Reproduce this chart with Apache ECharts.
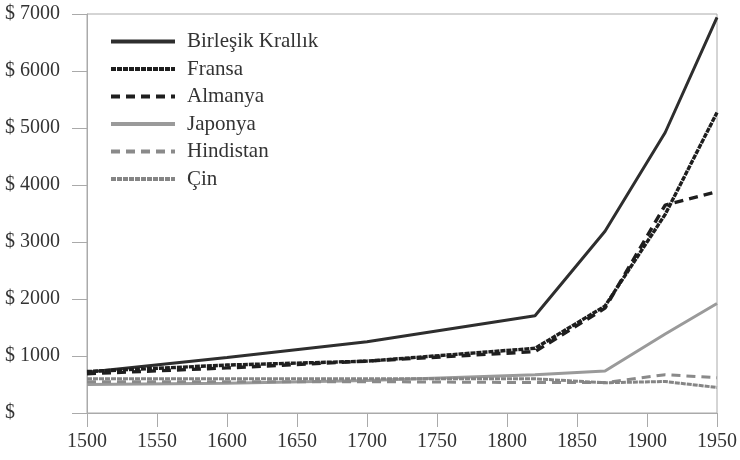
<!DOCTYPE html>
<html>
<head>
<meta charset="utf-8">
<script src="https://cdn.jsdelivr.net/npm/echarts@6/dist/echarts.min.js"></script>
<style>html,body{margin:0;padding:0;background:#fff}#c{width:740px;height:460px}</style>
</head>
<body>
<div id="c"></div>
<script>
const years = [1500, 1600, 1700, 1820, 1870, 1913, 1950];
const seriesNames = ['Birleşik Krallık', 'Fransa', 'Almanya', 'Japonya', 'Hindistan', 'Çin'];
const uk      = [714, 974, 1250, 1706, 3190, 4921, 6939];
const france  = [727, 841, 910, 1135, 1876, 3485, 5271];
const germany = [688, 791, 910, 1077, 1839, 3648, 3881];
const japan   = [500, 520, 570, 669, 737, 1387, 1921];
const india   = [550, 550, 550, 533, 533, 673, 619];
const china   = [600, 600, 600, 600, 530, 552, 448];
const yTicks = [0, 1000, 2000, 3000, 4000, 5000, 6000, 7000];

const values = [uk, france, germany, japan, india, china];
const styles = [
  {color: '#2e2e2e', type: 'solid', width: 3},
  {color: '#1e1e1e', type: [5, 1], width: 3.4},
  {color: '#1e1e1e', type: [9, 6], width: 3.4},
  {color: '#9a9a9a', type: 'solid', width: 3},
  {color: '#8a8a8a', type: [9, 6], width: 3},
  {color: '#858585', type: [5, 1], width: 3}
];
const font = 'Liberation Serif';
const chart = echarts.init(document.getElementById('c'));
chart.setOption({
  animation: false,
  grid: {left: 87, right: 18, top: 14, bottom: 47, show: true, borderColor: '#aaa', borderWidth: 1},
  legend: {
    orient: 'vertical', left: 109, top: 31, padding: 0,
    itemWidth: 64, itemHeight: 20, itemGap: 6.5,
    itemStyle: {opacity: 0},
    lineStyle: {width: 4},
    textStyle: {fontFamily: font, fontSize: 21, color: '#333', lineHeight: 20, padding: [0, 0, 0, 7]},
    data: seriesNames
  },
  xAxis: {
    type: 'value', min: 1500, max: 1950, interval: 50,
    axisLine: {show: true, lineStyle: {color: '#aaa'}},
    axisTick: {show: true, length: 14, lineStyle: {color: '#aaa'}},
    axisLabel: {fontFamily: font, fontSize: 20, color: '#333', margin: 19, formatter: v => String(v)},
    splitLine: {show: false}
  },
  yAxis: {
    type: 'value', min: 0, max: 7000, interval: 1000,
    axisLine: {show: true, lineStyle: {color: '#aaa'}},
    axisTick: {show: true, length: 15, lineStyle: {color: '#aaa'}},
    axisLabel: {fontFamily: font, fontSize: 20, color: '#333', margin: 82, align: 'left',
      formatter: v => yTicks.includes(v) ? (v === 0 ? '$' : '$ ' + v) : ''},
    splitLine: {show: false}
  },
  series: seriesNames.map((n, i) => ({
    name: n, type: 'line', symbol: 'none',
    data: years.map((y, j) => [y, values[i][j]]),
    lineStyle: styles[i], itemStyle: {color: styles[i].color}
  }))
});
</script>
</body>
</html>
